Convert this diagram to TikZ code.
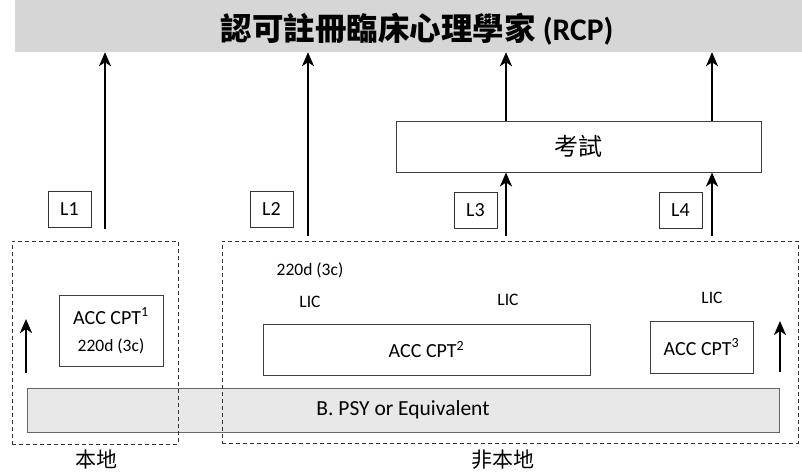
\documentclass[tikz,border=0pt]{standalone}
\usepackage{fontspec}
\setmainfont{Carlito}
\newfontfamily\cjk{Noto Sans CJK TC}
\usetikzlibrary{arrows.meta}
\begin{document}
\begin{tikzpicture}[x=1pt,y=-1pt,
  box/.style={draw=black!75,line width=0.9pt,inner sep=0pt,font=\fontsize{20}{20}\selectfont},
  lbl/.style={draw=black!80,line width=0.9pt,minimum width=43pt,minimum height=36pt,inner sep=0pt,font=\fontsize{20}{20}\selectfont},
  up/.style={line width=2.6pt,-{Stealth[length=14pt,width=12pt,inset=4pt]}},
  dbox/.style={draw=black!80,line width=0.9pt,dash pattern=on 4pt off 3pt,inner sep=0pt},
  band/.style={fill=black!9,draw=black!60,line width=0.9pt,inner sep=0pt},
  small/.style={font=\fontsize{17.5}{17.5}\selectfont},
  cjkl/.style={font=\cjk\fontsize{21}{21}\selectfont}
  ]
\useasboundingbox (0,0) rectangle (802,472);
% title band
\node[fill=black!16,inner sep=0pt,minimum width=787pt,minimum height=52pt] (top) at (408.5,26) {};
\node (title) at (417,29) {\cjk\fontsize{31.5}{31.5}\selectfont\bfseries 認可註冊臨床心理學家 {\fontspec{Carlito}\bfseries (RCP)}};
% B.PSY band
\node[band,minimum width=752pt,minimum height=44pt,font=\fontsize{21.5}{21.5}\selectfont] (bpsy) at (403,410) {B. PSY or Equivalent};
% dashed regions
\node[dbox,minimum width=166pt,minimum height=203pt] (local) at (95,342.5) {};
\node[dbox,minimum width=576pt,minimum height=202pt] (nonlocal) at (510,342) {};
\node[cjkl] (loc) at (96,460) {本地};
\node[cjkl] (nloc) at (503,460) {非本地};
% exam
\node[box,minimum width=365pt,minimum height=51pt,font=\cjk\fontsize{24}{24}\selectfont] (exam) at (578.5,146.5) {考試};
% ACC boxes
\node[box,minimum width=104pt,minimum height=71pt,align=center] (cpt1) at (111,330.5) {ACC CPT\textsuperscript{1}\\[7pt]{\fontsize{17.5}{17.5}\selectfont 220d (3c)}};
\node[box,minimum width=327pt,minimum height=51pt] (cpt2) at (426.5,349.5) {ACC CPT\textsuperscript{2}};
\node[box,minimum width=103pt,minimum height=52pt] (cpt3) at (701.5,347) {ACC CPT\textsuperscript{3}};
% small texts
\node[small] (d2) at (310,270) {220d (3c)};
\node[small] (lic1) at (310,302) {LIC};
\node[small] (lic2) at (508,300) {LIC};
\node[small] (lic3) at (712,298) {LIC};
% L labels
\node[lbl] (L1) at (69.5,209.5) {L1};
\node[lbl] (L2) at (271.5,209.5) {L2};
\node[lbl] (L3) at (475.5,210.5) {L3};
\node[lbl] (L4) at (680.5,210) {L4};
% arrows
\coordinate (a1s) at (105,229);
\coordinate (a2s) at (308,236);
\coordinate (a3s) at (506,236);
\coordinate (a4s) at (712,236);
\draw[up] (a1s) -- (a1s |- top.south);
\draw[up] (a2s) -- (a2s |- top.south);
\draw[up] (a3s) -- (a3s |- exam.south);
\draw[up] (exam.north -| a3s) -- (a3s |- top.south);
\draw[up] (a4s) -- (a4s |- exam.south);
\draw[up] (exam.north -| a4s) -- (a4s |- top.south);
\coordinate (b1s) at (26,373);
\coordinate (b1e) at (26,319);
\coordinate (b2s) at (780,372);
\coordinate (b2e) at (780,321);
\draw[up] (b1s) -- (b1e);
\draw[up] (b2s) -- (b2e);
\end{tikzpicture}
\end{document}
